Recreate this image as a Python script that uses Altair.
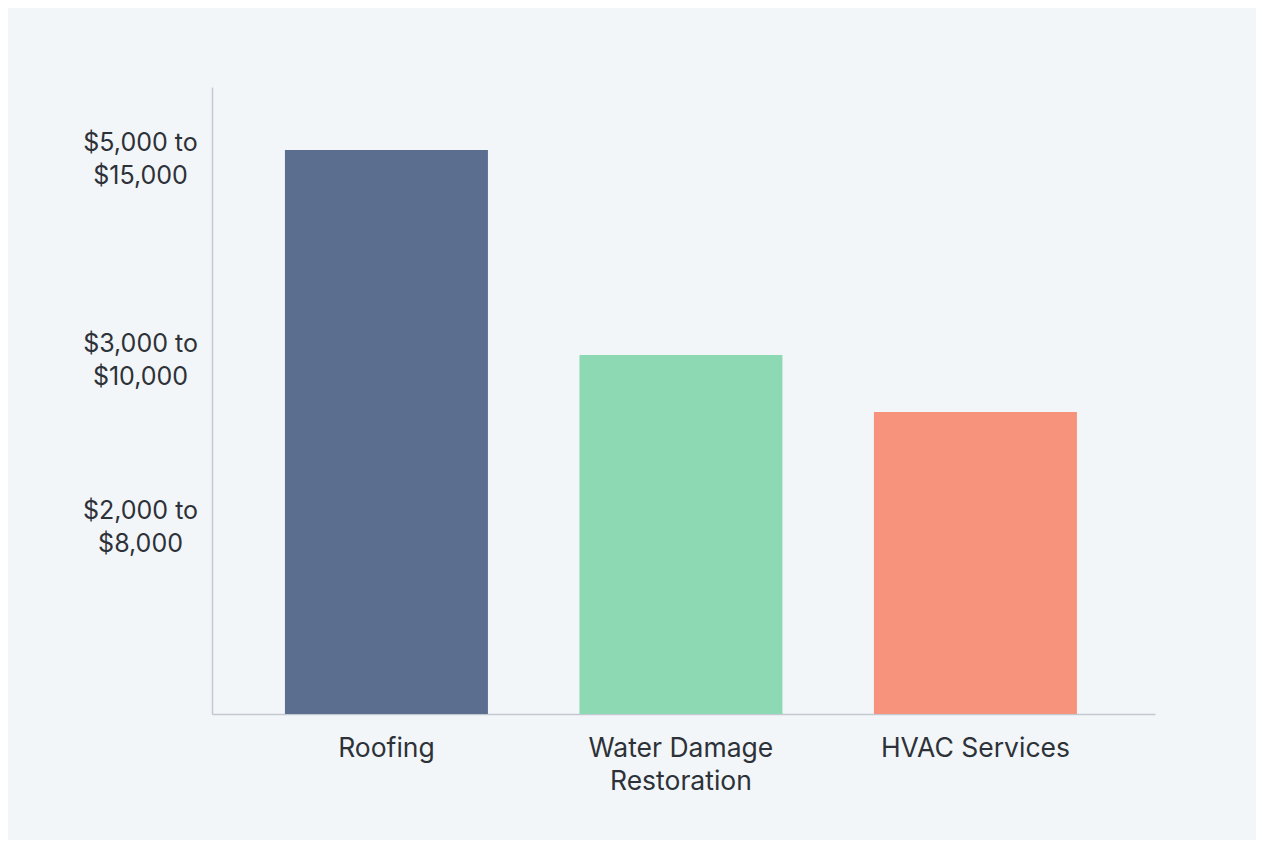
import altair as alt
import pandas as pd

categories = ["Roofing", "Water Damage Restoration", "HVAC Services"]
values = [10000, 6365, 5355]
colors = ["#5b6e8f", "#8cd9b3", "#f7927c"]
tick_values = [3307, 6268, 9832]
tick_labels = ["$2,000 to|$8,000", "$3,000 to|$10,000", "$5,000 to|$15,000"]

df = pd.DataFrame({"category": categories, "value": values})

label_expr = " : ".join(
    [f"datum.value == {v} ? split('{t}', '|')" for v, t in zip(tick_values, tick_labels)]
) + " : ''"

x_label_expr = "datum.label == 'Water Damage Restoration' ? ['Water Damage', 'Restoration'] : datum.label"

FONT = "Inter"

chart = alt.Chart(df).mark_bar().encode(
    x=alt.X("category:N", sort=categories, title=None,
            scale=alt.Scale(paddingInner=0.3107, paddingOuter=0.2564, align=0.483),
            axis=alt.Axis(labelAngle=0, labelExpr=x_label_expr, ticks=False, labelLimit=0,
                          labelFontSize=26.5, labelFont=FONT, labelColor="#2d3238",
                          labelLineHeight=33, labelPadding=21, labelBaseline="top",
                          domainColor="#c3c9d1", domainWidth=1.5)),
    y=alt.Y("value:Q", title=None,
            scale=alt.Scale(domain=[0, 11117], nice=False, zero=True),
            axis=alt.Axis(values=tick_values, labelExpr=label_expr, ticks=False, grid=False,
                          labelFontSize=25, labelFont=FONT, labelColor="#2d3238", labelLimit=0,
                          labelLineHeight=33, labelAlign="center", labelBaseline="middle",
                          labelOffset=-16.5, labelPadding=72,
                          domainColor="#c3c9d1", domainWidth=1.5)),
    color=alt.Color("category:N", scale=alt.Scale(domain=categories, range=colors), legend=None),
).properties(
    width=943,
    height=627,
    autosize=alt.AutoSizeParams(type="none"),
    padding={"left": 204, "top": 79, "right": 101, "bottom": 126},
    background="#f3f6f8",
).configure_view(stroke=None)

chart.save("out.html", embed_options={"renderer": "svg", "actions": False})
